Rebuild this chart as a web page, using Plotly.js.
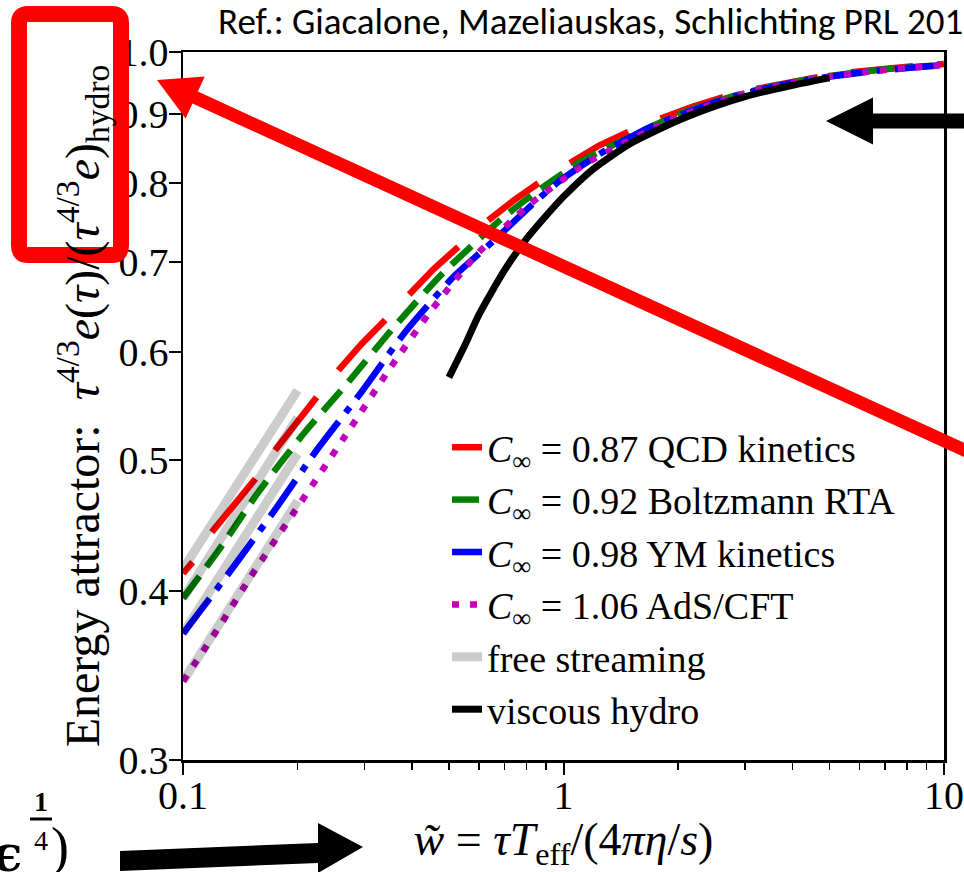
<!DOCTYPE html>
<html>
<head>
<meta charset="utf-8">
<script src="https://cdn.plot.ly/plotly-3.0.1.min.js"></script>
<style>
  html, body { margin: 0; padding: 0; background: #ffffff; overflow: hidden; }
  #chart { width: 964px; height: 872px; }
</style>
</head>
<body>
<div id="chart"></div>
<script>
// ---------------- data ----------------
// Red: C_inf = 0.87 QCD kinetics (drawn as separate pieces, gaps = null)
const qcdX = [0.1, 0.106, null, 0.119, 0.137, 0.155, null, 0.1745, 0.198, 0.2245, null,
              0.256, 0.295, 0.34, null, 0.393, 0.455, 0.529, null, 0.634, 0.74, 0.859, null,
              1.04, 1.24, 1.48, null, 1.80, 2.18, 2.63, null, 3.21, 3.9, 4.66, null,
              5.70, 6.9, 8.29, null, 9.6, 10];
const qcdY = [0.412, 0.420, null, 0.442, 0.463, 0.484, null, 0.508, 0.532, 0.556, null,
              0.582, 0.609, 0.634, null, 0.662, 0.691, 0.718, null, 0.751, 0.777, 0.800, null,
              0.828, 0.853, 0.873, null, 0.893, 0.911, 0.926, null, 0.939, 0.950, 0.958, null,
              0.966, 0.972, 0.976, null, 0.979, 0.980];

// Green: C_inf = 0.92 Boltzmann RTA
const rtaX = [0.1, 0.124, 0.159, 0.211, 0.267, 0.356, 0.478, 0.695, 0.885, 1.127, 1.62, 2.0, 2.5, 3.0, 4.0, 5.0, 6.5, 8.0, 10];
const rtaY = [0.395, 0.4285, 0.4745, 0.5256, 0.567, 0.625, 0.685, 0.755, 0.795, 0.832, 0.875, 0.899, 0.919, 0.933, 0.950, 0.960, 0.969, 0.974, 0.978];

// Blue: C_inf = 0.98 YM kinetics
const ymX = [0.1, 0.1356, 0.1763, 0.2245, 0.2918, 0.3833, 0.5133, 0.6538, 0.8003, 0.9596, 1.247, 1.688, 2.0, 2.5, 3.0, 4.0, 5.0, 6.5, 8.0, 10];
const ymY = [0.372, 0.4165, 0.461, 0.508, 0.559, 0.621, 0.682, 0.725, 0.765, 0.800, 0.841, 0.880, 0.897, 0.918, 0.932, 0.949, 0.959, 0.968, 0.973, 0.978];

// Magenta: C_inf = 1.06 AdS/CFT
const adsX = [0.1, 0.125, 0.15, 0.203, 0.2748, 0.35, 0.4503, 0.597, 0.8166, 1.151, 1.722, 2.2, 3.0, 4.0, 5.0, 6.5, 8.0, 10];
const adsY = [0.343, 0.377, 0.409, 0.464, 0.527, 0.584, 0.645, 0.7106, 0.772, 0.828, 0.878, 0.905, 0.932, 0.949, 0.959, 0.968, 0.973, 0.978];

// Grey: free streaming (one short piece from each attractor start)
const fsX = [0.1, 0.2, null, 0.1, 0.2, null, 0.1, 0.2, null, 0.1, 0.2];
const fsY = [0.415, 0.5625, null, 0.395, 0.537, null, 0.372, 0.505, null, 0.343, 0.466];

// Black: viscous hydro
const hydroX = [0.5, 0.55, 0.6, 0.7, 0.8, 0.9, 1.0, 1.2, 1.5, 2.0, 2.5, 3.0, 4.0, 5.0];
const hydroY = [0.575, 0.607, 0.640, 0.690, 0.728, 0.757, 0.782, 0.820, 0.856, 0.890, 0.912, 0.927, 0.945, 0.957];

const seriesNames = [
  "<i>C</i><sub>∞</sub> = 0.87 QCD kinetics",
  "<i>C</i><sub>∞</sub> = 0.92 Boltzmann RTA",
  "<i>C</i><sub>∞</sub> = 0.98 YM kinetics",
  "<i>C</i><sub>∞</sub> = 1.06 AdS/CFT",
  "free streaming",
  "viscous hydro"
];

const xTickVals = [0.1, 1, 10];
const xTickText = ["0.1", "1", "10"];
const xMinorVals = [0.2, 0.3, 0.4, 0.5, 0.6, 0.7, 0.8, 0.9, 2, 3, 4, 5, 6, 7, 8, 9];
const yTickVals = [0.3, 0.4, 0.5, 0.6, 0.7, 0.8, 0.9, 1.0];
const yTickText = ["0.3", "0.4", "0.5", "0.6", "0.7", "0.8", "0.9", "1.0"];

const refText = "Ref.: Giacalone, Mazeliauskas, Schlichting PRL 2019";

// ---------------- layout constants ----------------
const W = 964, H = 872;
const M = {l: 183, r: 20, t: 52, b: 112};
const PW = W - M.l - M.r, PH = H - M.t - M.b;
const serif = "'Liberation Serif', 'DejaVu Serif', serif";

// pixel -> paper helper for the slide decorations (not data)
function px(x) { return (x - M.l) / PW; }
function py(y) { return (M.t + PH - y) / PH; }
function pathFrom(pts, close) {
  let s = "";
  pts.forEach((p, i) => { s += (i === 0 ? "M" : "L") + px(p[0]).toFixed(5) + "," + py(p[1]).toFixed(5) + " "; });
  return s + (close ? "Z" : "");
}

// arrow polygon
function arrowPoly(tip, tail, headLen, headHalf, shaftHalf) {
  const dx = tip[0] - tail[0], dy = tip[1] - tail[1];
  const len = Math.hypot(dx, dy);
  const ux = dx / len, uy = dy / len;
  const nx = -uy, ny = ux;
  const bx = tip[0] - ux * headLen, by = tip[1] - uy * headLen;
  return [
    tip,
    [bx + nx * headHalf, by + ny * headHalf],
    [bx + nx * shaftHalf, by + ny * shaftHalf],
    [tail[0] + nx * shaftHalf, tail[1] + ny * shaftHalf],
    [tail[0] - nx * shaftHalf, tail[1] - ny * shaftHalf],
    [bx - nx * shaftHalf, by - ny * shaftHalf],
    [bx - nx * headHalf, by - ny * headHalf]
  ];
}

// rounded rectangle path (Q corners)
function roundRect(x0, y0, x1, y1, r) {
  const P = (x, y) => px(x).toFixed(5) + "," + py(y).toFixed(5);
  return "M" + P(x0 + r, y0) + " L" + P(x1 - r, y0) + " Q" + P(x1, y0) + " " + P(x1, y0 + r) +
         " L" + P(x1, y1 - r) + " Q" + P(x1, y1) + " " + P(x1 - r, y1) +
         " L" + P(x0 + r, y1) + " Q" + P(x0, y1) + " " + P(x0, y1 - r) +
         " L" + P(x0, y0 + r) + " Q" + P(x0, y0) + " " + P(x0 + r, y0) + " Z";
}

const traces = [
  {x: qcdX, y: qcdY, name: seriesNames[0], mode: "lines", connectgaps: false,
   line: {color: "#ff0000", width: 6.5}},
  {x: rtaX, y: rtaY, name: seriesNames[1], mode: "lines",
   line: {color: "#008000", width: 6.5, dash: "27px,12px", shape: "spline", smoothing: 0.6}},
  {x: ymX, y: ymY, name: seriesNames[2], mode: "lines",
   line: {color: "#0000ff", width: 6.5, dash: "44px,11px,7px,11px", shape: "spline", smoothing: 0.6}},
  {x: adsX, y: adsY, name: seriesNames[3], mode: "lines",
   line: {color: "#bf00bf", width: 6.5, dash: "7px,11px", shape: "spline", smoothing: 0.6}},
  {x: fsX, y: fsY, name: seriesNames[4], mode: "lines", connectgaps: false,
   line: {color: "rgba(0,0,0,0.2)", width: 9}},
  {x: hydroX, y: hydroY, name: seriesNames[5], mode: "lines",
   line: {color: "#000000", width: 7, shape: "spline", smoothing: 0.6}}
];

const black = "#000000";
const shapes = [
  // red rounded rectangle around the hydro normalisation label
  {type: "path", xref: "paper", yref: "paper", path: roundRect(19, 14, 121, 255, 9),
   line: {color: "#ff0000", width: 16}, fillcolor: "rgba(0,0,0,0)", layer: "above"},
  // red arrow
  {type: "path", xref: "paper", yref: "paper",
   path: pathFrom(arrowPoly([157, 80], [1010, 471], 42, 23, 6.5), true),
   fillcolor: "#ff0000", line: {width: 0}, layer: "above"},
  // black arrow, top right, pointing left
  {type: "path", xref: "paper", yref: "paper",
   path: pathFrom([[826, 121], [873, 97.5], [873, 113.5], [980, 113.5], [980, 128.5], [873, 128.5], [873, 144.5]], true),
   fillcolor: black, line: {width: 0}, layer: "above"},
  // black arrow, bottom, pointing right
  {type: "path", xref: "paper", yref: "paper",
   path: pathFrom([[120, 851], [318, 843], [318, 823], [363, 847], [318, 873], [318, 863], [120, 871]], true),
   fillcolor: black, line: {width: 0}, layer: "above"},
  // fraction bar of the cut-off exponent 1/4
  {type: "line", xref: "paper", yref: "paper", x0: px(30), x1: px(52), y0: py(819), y1: py(819),
   line: {color: black, width: 3}, layer: "above"}
];

const annotations = [
  {xref: "paper", yref: "paper", x: px(216), y: py(21), xanchor: "left", yanchor: "middle",
   text: refText, showarrow: false,
   font: {family: "Carlito, 'Liberation Sans Narrow', 'Liberation Sans', sans-serif", size: 37, color: black}},
  {xref: "paper", yref: "paper", x: px(-10), y: py(853), xanchor: "left", yanchor: "middle",
   text: "<b>ϵ</b>", showarrow: false, font: {family: "'DejaVu Serif', serif", size: 50, color: black}},
  {xref: "paper", yref: "paper", x: px(41), y: py(801), xanchor: "center", yanchor: "middle",
   text: "<b>1</b>", showarrow: false, font: {family: "'Liberation Serif', serif", size: 28, color: black}},
  {xref: "paper", yref: "paper", x: px(41), y: py(840), xanchor: "center", yanchor: "middle",
   text: "4", showarrow: false, font: {family: "'Liberation Serif', serif", size: 28, color: black}},
  {xref: "paper", yref: "paper", x: px(60), y: py(847), xanchor: "center", yanchor: "middle",
   text: ")", showarrow: false, font: {family: "'Liberation Serif', serif", size: 54, color: black}}
];

const layout = {
  width: W, height: H,
  margin: M,
  paper_bgcolor: "#ffffff", plot_bgcolor: "#ffffff",
  showlegend: true,
  legend: {
    x: px(447), y: py(416), xanchor: "left", yanchor: "top",
    bgcolor: "rgba(0,0,0,0)", borderwidth: 0,
    font: {family: serif, size: 38, color: black},
    tracegroupgap: 0, itemwidth: 30
  },
  xaxis: {
    type: "log", range: [-1, 1],
    tickmode: "array", tickvals: xTickVals, ticktext: xTickText,
    ticks: "outside", ticklen: 12, tickwidth: 2, tickcolor: black,
    minor: {tickmode: "array", tickvals: xMinorVals, ticks: "outside", ticklen: 7, tickwidth: 1.5, tickcolor: black, showgrid: false},
    showline: true, linewidth: 2.5, linecolor: black, mirror: true,
    showgrid: false, zeroline: false,
    tickfont: {family: serif, size: 40, color: black},
    ticklabelstandoff: -14,
    title: {text: "<i>w̃</i> = <i>τT</i><sub>eff</sub>/(4<i>πη</i>/<i>s</i>)", font: {family: serif, size: 46, color: black}, standoff: 12}
  },
  yaxis: {
    type: "log", range: [Math.log10(0.3), 0],
    tickmode: "array", tickvals: yTickVals, ticktext: yTickText,
    ticks: "outside", ticklen: 12, tickwidth: 2, tickcolor: black,
    showline: true, linewidth: 2.5, linecolor: black, mirror: true,
    showgrid: false, zeroline: false,
    tickfont: {family: serif, size: 40, color: black},
    ticklabelstandoff: -8,
    title: {text: "Energy attractor:  <i>τ</i><sup>4/3</sup><i>e</i>(<i>τ</i>)/(<i>τ</i><sup>4/3</sup><i>e</i>)<sub>hydro</sub>",
            font: {family: serif, size: 48, color: black}, standoff: 4}
  },
  shapes: shapes,
  annotations: annotations
};

Plotly.newPlot("chart", traces, layout, {displayModeBar: false, staticPlot: true});
</script>
</body>
</html>
